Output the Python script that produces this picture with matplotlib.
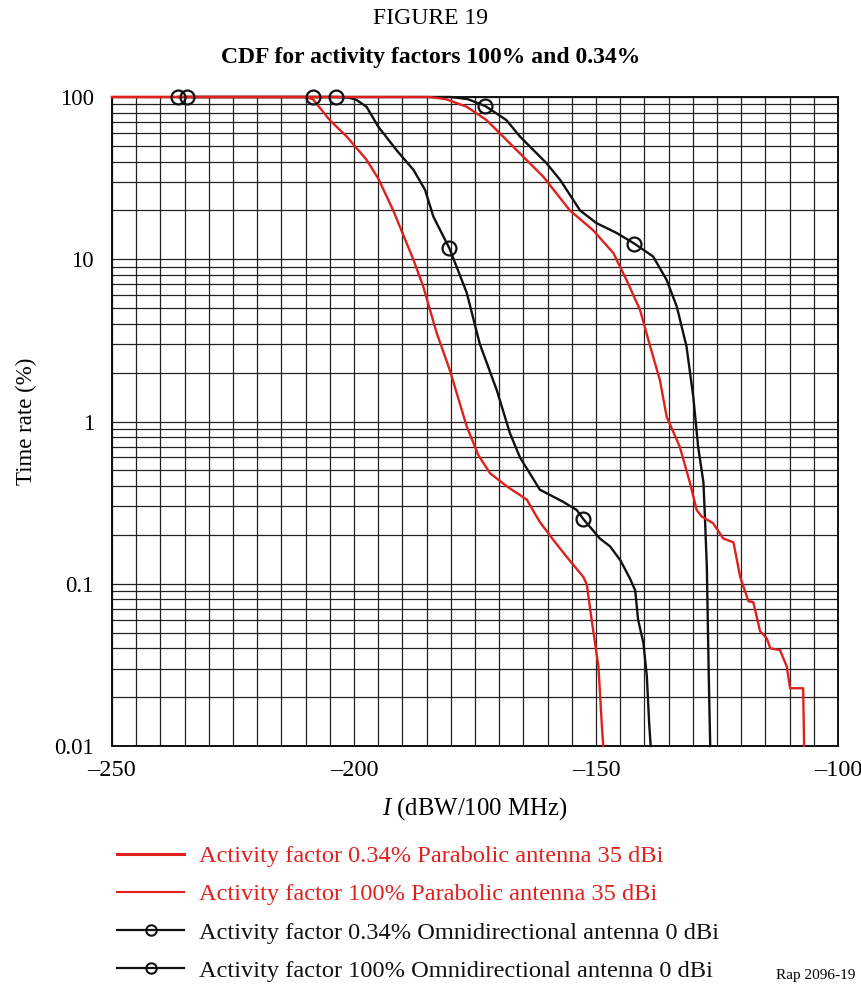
import numpy as np
import matplotlib
matplotlib.use("Agg")
import matplotlib.pyplot as plt
from matplotlib.lines import Line2D

plt.rcParams['font.family'] = ['Liberation Serif', 'DejaVu Serif']
plt.rcParams['mathtext.fontset'] = 'custom'
plt.rcParams['mathtext.rm'] = 'Liberation Serif'
plt.rcParams['mathtext.it'] = 'Liberation Serif:italic'

RED = '#e0201c'
BLACK = '#111111'

# Parabolic antenna 35 dBi, activity factor 0.34 %
red_left_x = [-250, -210.1, -208.5, -205.0, -201.5, -197.4, -195.0, -191.9, -187.7, -185.7,
              -182.9, -180.2, -176.7, -174.3, -171.9, -168.5, -164.3, -161.6, -158.8, -156.1,
              -152.6, -151.9, -150.9, -149.5, -148.8, -148.5]
red_left_y = [100, 100, 97, 72, 57, 41, 31.5, 20, 9.9, 6.8,
              3.5, 2.07, 0.93, 0.62, 0.48, 0.40, 0.33, 0.24, 0.186, 0.147,
              0.110, 0.099, 0.060, 0.031, 0.0135, 0.01]

# Parabolic antenna 35 dBi, activity factor 100 %
red_right_x = [-250, -184.5, -181.0, -176.7, -172.6, -167.1, -160.9, -155.4, -150.6, -146.4,
               -143.7, -140.9, -138.8, -136.8, -135.4, -132.7, -130.6, -129.2, -128.2, -125.8,
               -123.7, -121.6, -120.2, -118.5, -117.5, -116.1, -114.7, -114.0, -112.0, -110.6,
               -109.9, -107.2, -107.0]
red_right_y = [100, 100, 97, 87, 72, 49.4, 32.3, 20, 15.1, 10.9,
               7.45, 4.87, 2.9, 1.8, 1.07, 0.70, 0.42, 0.285, 0.26, 0.236,
               0.19, 0.18, 0.11, 0.078, 0.077, 0.051, 0.046, 0.040, 0.039, 0.031,
               0.0227, 0.0227, 0.01]

# Omnidirectional antenna 0 dBi, activity factor 0.34 %
black_left_x = [-236.4, -208.5, -203.5, -201.0, -199.5, -197.4, -195.0, -191.2, -187.7, -185.3,
                -183.6, -180.3, -176.7, -174.0, -170.5, -167.8, -165.7, -161.6, -156.8, -154.0,
                -152.6, -149.2, -147.1, -145.0, -143.0, -141.9, -141.3, -140.2, -139.5, -139.0,
                -138.7]
black_left_y = [100, 100, 100, 99, 96, 87, 65.7, 47, 35.5, 26.7,
                18.3, 11.7, 6.2, 3.0, 1.56, 0.85, 0.6, 0.38, 0.32, 0.285,
                0.25, 0.19, 0.17, 0.14, 0.108, 0.091, 0.060, 0.043, 0.027, 0.0135,
                0.01]
black_left_mx = [-236.4, -208.5, -180.4, -152.7]
black_left_my = [100, 100, 11.7, 0.25]

# Omnidirectional antenna 0 dBi, activity factor 100 %
black_right_x = [-234.5, -203.7, -180.0, -176.5, -172.9, -168.5, -165.7, -160.2, -157.4, -154.7,
                 -153.3, -149.9, -145.7, -142.1, -138.2, -135.4, -133.3, -131.3, -129.9, -128.9,
                 -127.8, -127.5, -127.1, -126.8, -126.6, -126.4]
black_right_y = [100, 100, 100, 97, 88, 72, 57, 39, 30.8, 23.2,
                 20, 16.7, 14.5, 12.5, 10.4, 7.45, 5.1, 2.9, 1.42, 0.70,
                 0.42, 0.26, 0.127, 0.039, 0.019, 0.01]
black_right_mx = [-234.5, -203.7, -172.9, -142.1]
black_right_my = [100, 100, 88, 12.5]

x_ticks = [-250, -200, -150, -100]
x_tick_labels = ['\u2013250', '\u2013200', '\u2013150', '\u2013100']
y_ticks = [0.01, 0.1, 1, 10, 100]
y_tick_labels = ['0.01', '0.1', '1', '10', '100']

labels = [
    'Activity factor 0.34% Parabolic antenna 35 dBi',
    'Activity factor 100% Parabolic antenna 35 dBi',
    'Activity factor 0.34% Omnidirectional antenna 0 dBi',
    'Activity factor 100% Omnidirectional antenna 0 dBi',
]

fig = plt.figure(figsize=(8.62, 9.86), dpi=100)
ax = fig.add_axes([112 / 862, 1 - 746 / 986, 726 / 862, 649 / 986])

ax.set_yscale('log')
ax.set_xlim(-250, -100)
ax.set_ylim(0.01, 100)

ax.set_xticks(x_ticks)
ax.set_xticklabels(x_tick_labels)
ax.set_xticks(np.arange(-250, -99, 5), minor=True)
ax.set_yticks(y_ticks)
ax.set_yticklabels(y_tick_labels)
ax.yaxis.set_minor_locator(matplotlib.ticker.LogLocator(base=10, subs=np.arange(2, 10)))
ax.yaxis.set_minor_formatter(matplotlib.ticker.NullFormatter())
ax.tick_params(which='both', length=0)
ax.tick_params(axis='x', pad=10, labelsize=17.5)
ax.tick_params(axis='y', pad=13, labelsize=16.5)

ax.grid(which='both', color='#222222', linewidth=0.9)
ax.set_axisbelow(True)
for s in ax.spines.values():
    s.set_linewidth(1.4)
    s.set_color('#111111')

lw = 1.7
ax.plot(black_left_x, black_left_y, color=BLACK, lw=lw, clip_on=False, zorder=3)
ax.plot(black_right_x, black_right_y, color=BLACK, lw=lw, clip_on=False, zorder=3)
ax.plot(red_left_x, red_left_y, color=RED, lw=lw, clip_on=False, zorder=4)
ax.plot(red_right_x, red_right_y, color=RED, lw=lw, clip_on=False, zorder=4)
ax.plot(black_left_mx, black_left_my, ls='none', marker='o', ms=10, mfc='none',
        mec=BLACK, mew=1.6, clip_on=False, zorder=5)
ax.plot(black_right_mx, black_right_my, ls='none', marker='o', ms=10, mfc='none',
        mec=BLACK, mew=1.6, clip_on=False, zorder=5)

ax.set_xlabel('$I$ (dBW/100 MHz)', fontsize=17.8, labelpad=10)
ax.set_ylabel('Time rate (%)', fontsize=16.5, labelpad=12)

fig.text(0.5, 1 - 18 / 986, 'FIGURE 19', ha='center', va='center', fontsize=17)
fig.text(0.5, 1 - 58 / 986, 'CDF for activity factors 100% and 0.34%', ha='center',
         va='center', fontsize=17, fontweight='bold')

handles = [
    Line2D([], [], color=RED, lw=2.2),
    Line2D([], [], color=RED, lw=1.5),
    Line2D([], [], color=BLACK, lw=1.6, marker='o', ms=7.5, mfc='none', mew=1.5),
    Line2D([], [], color=BLACK, lw=1.6, marker='o', ms=7.5, mfc='none', mew=1.5),
]
leg = fig.legend(handles, labels, loc='upper left', bbox_to_anchor=(117 / 862, 1 - 845 / 986),
                 frameon=False, fontsize=17.6, handlelength=2.75, handletextpad=0.6,
                 labelspacing=0.66, borderpad=0, borderaxespad=0)
for t, c in zip(leg.get_texts(), [RED, RED, BLACK, BLACK]):
    t.set_color(c)

fig.text(855 / 862, 1 - 976 / 986, 'Rap 2096-19', ha='right', va='center', fontsize=11)

fig.savefig('out.png', dpi=100)
